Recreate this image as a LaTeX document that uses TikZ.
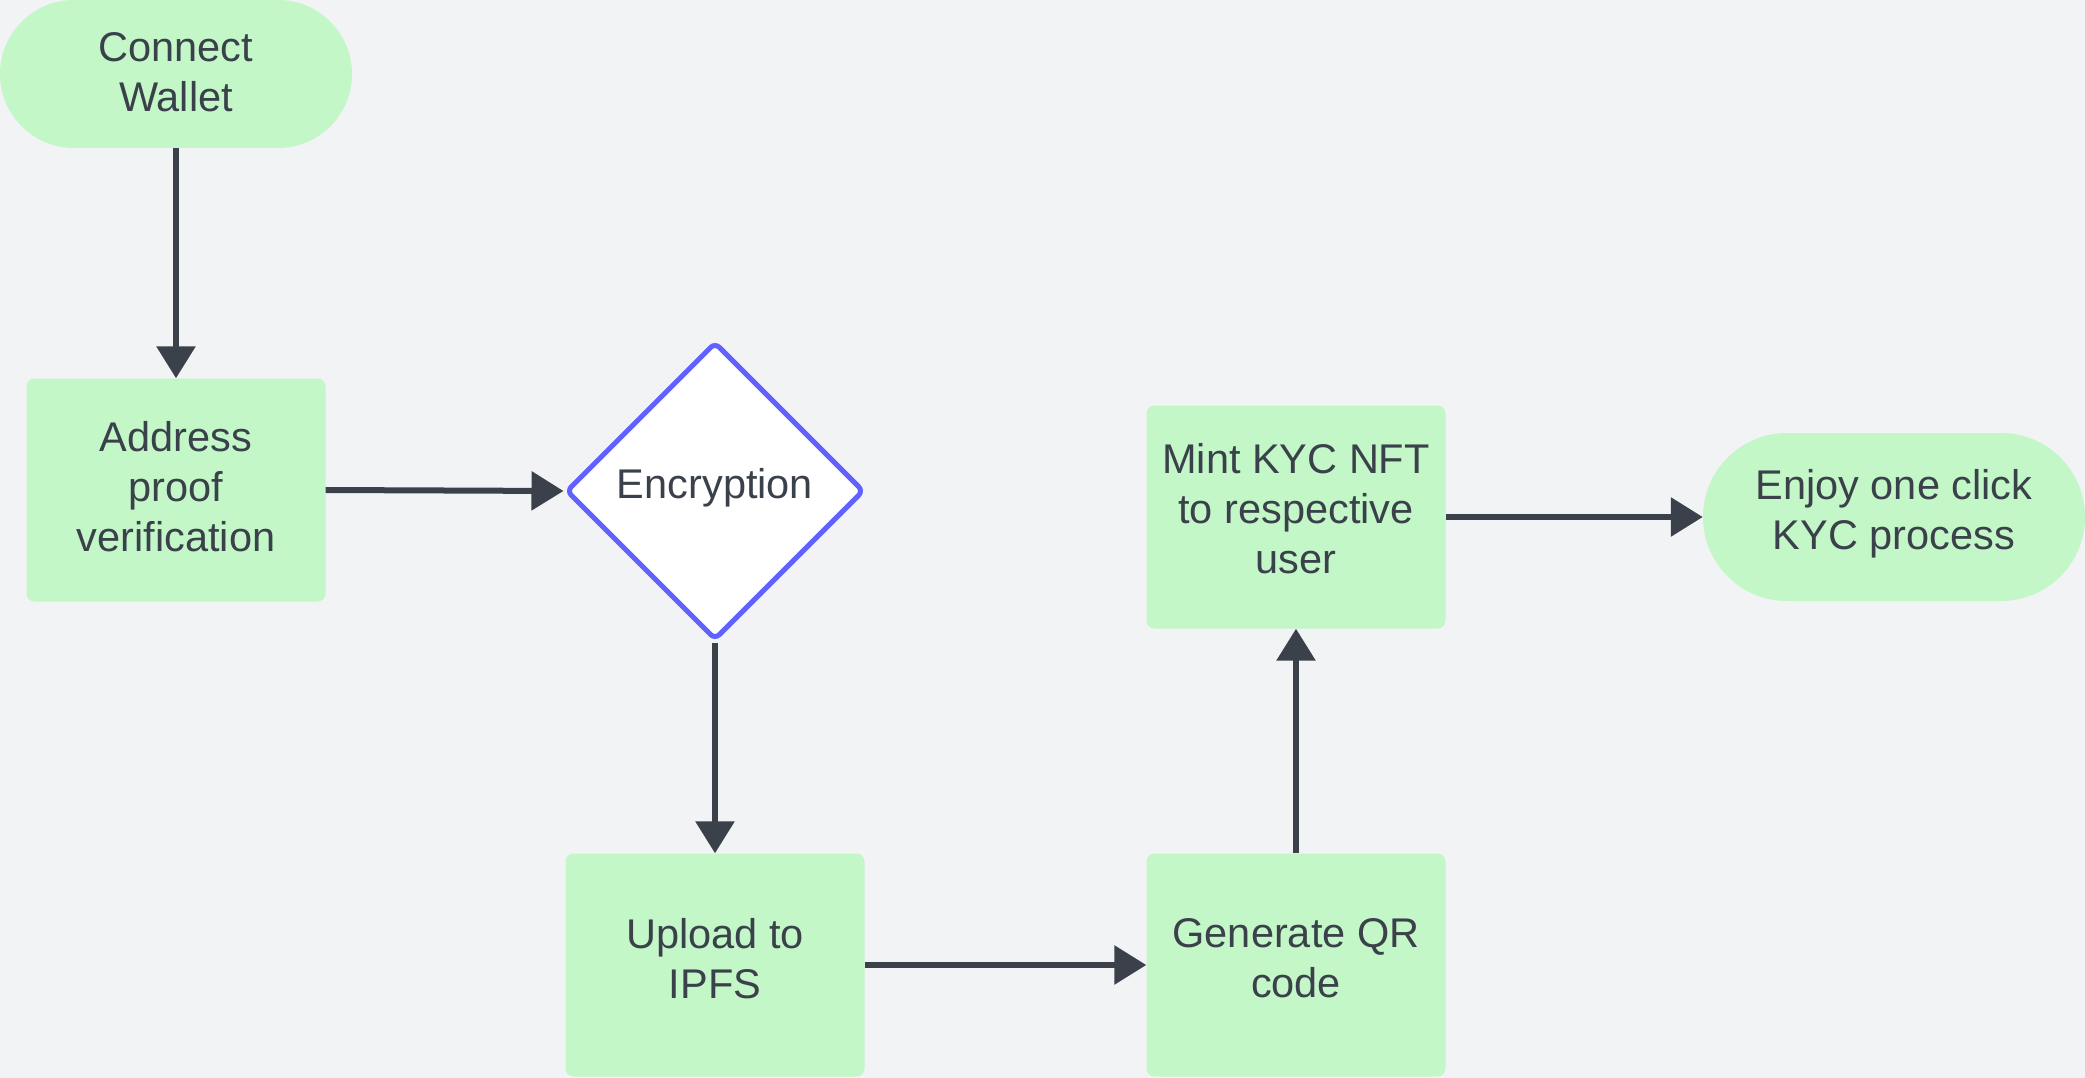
\documentclass[tikz,border=0pt]{standalone}
\usepackage{fontspec}
\setmainfont{Liberation Sans}
\usetikzlibrary{arrows.meta,shapes.geometric,shapes.misc}
\definecolor{bgc}{HTML}{F2F3F5}
\definecolor{boxgreen}{HTML}{C3F7C8}
\definecolor{inkc}{HTML}{3A414A}
\definecolor{decblue}{HTML}{6161FF}
\begin{document}
\begin{tikzpicture}[x=1pt,y=-1pt,
  lbl/.style={text=inkc, align=center, font=\fontsize{41.5}{50}\selectfont, inner sep=0pt},
  procbox/.style={fill=boxgreen, rounded corners=8pt, minimum width=299pt, minimum height=223pt, inner sep=0pt},
  termbox/.style={rounded rectangle, fill=boxgreen, inner sep=0pt},
  decbox/.style={diamond, aspect=1, draw=decblue, line width=5pt, fill=white, rounded corners=6pt, minimum width=298pt, minimum height=298pt, inner sep=0pt},
  flow/.style={draw=inkc, line width=6pt, -{Triangle[length=32pt,width=38pt]}}]
\fill[bgc] (0,0) rectangle (2085,1078);
\useasboundingbox (0,0) rectangle (2085,1078);

\node[termbox, minimum width=352pt, minimum height=148pt,
  label={[lbl,yshift=2pt]center:{Connect\\Wallet}}] (cw) at (176,74) {};
\node[procbox, label={[lbl,yshift=3.5pt]center:{Address\\proof\\verification}}] (ap) at (176,490) {};
\node[decbox, label={[lbl,yshift=3.5pt]center:{Encryption}}] (enc) at (715,491) {};
\node[procbox, label={[lbl,yshift=6.5pt]center:{Upload to\\IPFS}}] (up) at (715,965) {};
\node[procbox, label={[lbl,yshift=6.5pt]center:{Generate QR\\code}}] (qr) at (1296,965) {};
\node[procbox, label={[lbl,yshift=8pt]center:{Mint KYC NFT\\to respective\\user}}] (mint) at (1296,517) {};
\node[termbox, minimum width=382pt, minimum height=168pt,
  label={[lbl,yshift=3.5pt]center:{Enjoy one click\\KYC process}}] (kyc) at (1894,517) {};

\draw[flow] (cw.south) -- (ap.north);
\draw[flow] (ap.east) -- (enc.west);
\draw[flow] (enc.south) -- (up.north);
\draw[flow] (up.east) -- (qr.west);
\draw[flow] (qr.north) -- (mint.south);
\draw[flow] (mint.east) -- (kyc.west);
\end{tikzpicture}
\end{document}
